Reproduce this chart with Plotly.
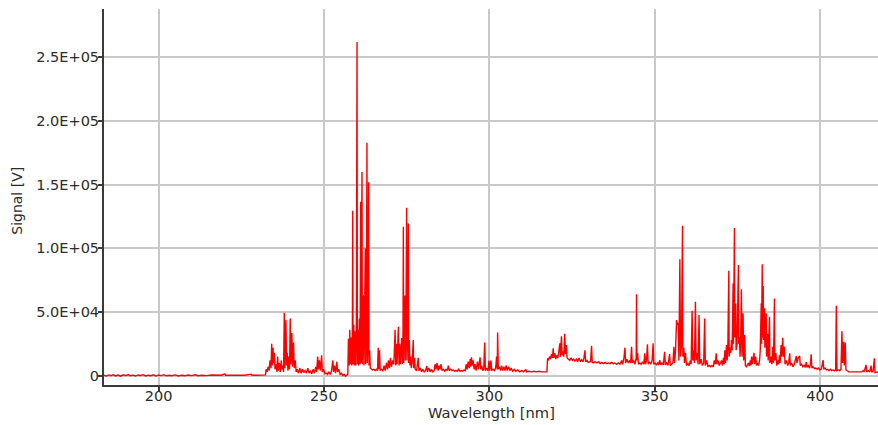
import plotly.graph_objects as go

# Emission spectrum, (wavelength [nm], signal [V]) samples, split by spectral band
band_183_232 = [
    (183.5, 400), (184.2, -300), (185.0, 600), (185.6, 0), (186.3, 800), (187.0, -200),
    (187.8, 500), (188.5, -400), (189.3, 700), (190.0, 100), (190.8, 900), (191.5, -100),
    (192.3, 500), (193.0, -300), (193.8, 600), (194.6, 200), (195.3, 800), (196.1, -200),
    (196.9, 400), (197.6, 0), (198.4, 700), (199.2, -300), (200.0, 500), (200.8, 100),
    (201.6, 800), (202.4, -100), (203.2, 400), (204.0, 0), (205.0, 600), (206.0, -200),
    (207.0, 300), (208.0, 0), (209.0, 500), (210.0, 100), (211.0, 700), (212.0, 0),
    (213.0, 400), (214.5, 100), (216.0, 500), (217.5, 200), (219.0, 400), (220.0, 1500),
    (220.3, 300), (222.0, 400), (224.0, 300), (226.0, 400), (228.0, 1200), (228.3, 400),
    (230.0, 400), (232.0, 500),
]

band_232_257 = [
    (232.3, 600), (232.5, 5e3), (232.8, 3e3), (233.1, 7e3), (233.4, 4e3), (233.7, 12e3),
    (234.0, 6e3), (234.2, 25e3), (234.4, 8e3), (234.6, 22e3), (234.8, 10e3), (235.0, 18e3),
    (235.2, 5e3), (235.5, 9e3), (235.8, 3e3), (236.0, 15e3), (236.2, 4e3), (236.5, 10e3),
    (236.8, 3e3), (237.1, 12e3), (237.3, 5e3), (237.6, 8e3), (237.8, 3e3), (238.0, 49.5e3),
    (238.2, 6e3), (238.5, 43.7e3), (238.7, 8e3), (238.9, 18e3), (239.1, 4e3), (239.4, 15e3),
    (239.6, 5e3), (239.8, 45e3), (240.0, 9e3), (240.3, 33.5e3), (240.5, 7e3), (240.8, 26e3),
    (241.0, 6e3), (241.3, 12e3), (241.6, 3e3), (241.9, 5e3), (242.3, 2e3), (242.7, 6e3),
    (243.1, 2e3), (243.5, 5e3), (243.9, 2.5e3), (244.3, 4e3), (244.7, 2e3), (245.1, 6e3),
    (245.5, 2e3), (245.9, 3.5e3), (246.3, 1.5e3), (246.7, 5e3), (247.1, 2e3), (247.5, 7e3),
    (247.8, 3e3), (248.1, 15e3), (248.3, 5e3), (248.6, 12e3), (248.9, 4e3), (249.3, 16e3),
    (249.5, 3e3), (249.9, 5e3), (250.3, 1.5e3), (250.7, 2e3), (251.1, 1e3), (251.5, 3e3),
    (251.9, 1e3), (252.3, 4e3), (252.7, 12e3), (252.9, 3e3), (253.2, 8e3), (253.5, 2e3),
    (253.9, 11e3), (254.1, 3e3), (254.5, 5e3), (254.9, 1e3), (255.3, 2e3), (255.7, 0),
    (256.1, 1e3), (256.5, -500), (256.9, 500), (257.2, 1e3),
]

band_257_264 = [
    (257.4, 29e3), (257.6, 8e3), (257.8, 36e3), (258.0, 9e3), (258.2, 30e3), (258.4, 8e3),
    (258.6, 38e3), (258.7, 129.5e3), (258.8, 9e3), (259.0, 40e3), (259.2, 8e3), (259.4, 35e3),
    (259.6, 8e3), (259.8, 42e3), (260.0, 262e3), (260.1, 9e3), (260.3, 36e3), (260.5, 8e3),
    (260.7, 45e3), (260.9, 9e3), (261.1, 136.6e3), (261.2, 10e3), (261.5, 160e3), (261.6, 9e3),
    (261.8, 40e3), (262.0, 63e3), (262.1, 8e3), (262.3, 38e3), (262.5, 100e3), (262.6, 9e3),
    (262.8, 35e3), (263.0, 183e3), (263.1, 10e3), (263.3, 30e3), (263.5, 152e3), (263.6, 8e3),
    (263.8, 20e3), (264.0, 6e3),
]

band_264_271 = [
    (264.3, 5e3), (264.7, 4.5e3), (265.1, 5e3), (265.5, 4e3), (265.9, 5e3), (266.2, 4e3),
    (266.4, 22e3), (266.6, 5e3), (266.8, 20e3), (267.0, 4e3), (267.4, 5e3), (267.8, 4e3),
    (268.2, 8e3), (268.5, 4e3), (268.9, 10e3), (269.2, 5e3), (269.5, 12e3), (269.8, 6e3),
    (270.1, 14e3), (270.4, 7e3), (270.8, 12e3), (271.1, 9e3),
]

band_271_278 = [
    (271.3, 20e3), (271.5, 36e3), (271.7, 8e3), (271.9, 25e3), (272.1, 9e3), (272.3, 20e3),
    (272.5, 38.5e3), (272.7, 8e3), (272.9, 25e3), (273.1, 9e3), (273.3, 22e3), (273.5, 29.6e3),
    (273.7, 9e3), (273.9, 35e3), (274.0, 117e3), (274.1, 10e3), (274.3, 50e3), (274.5, 63e3),
    (274.6, 12e3), (274.8, 45e3), (275.0, 132e3), (275.1, 12e3), (275.3, 40e3), (275.5, 119.6e3),
    (275.6, 10e3), (275.8, 28e3), (276.0, 8e3), (276.2, 15e3), (276.4, 6e3), (276.7, 12e3),
    (277.0, 28e3), (277.1, 6e3), (277.4, 14e3), (277.6, 5e3),
]

band_278_317 = [
    (278.0, 4e3), (278.5, 14e3), (278.7, 4e3), (279.1, 6e3), (279.5, 3e3), (279.9, 5e3),
    (280.3, 3e3), (280.7, 4e3), (281.1, 7.6e3), (281.3, 3e3), (281.7, 6e3), (282.1, 3e3),
    (282.5, 5e3), (282.9, 3e3), (283.3, 4e3), (283.6, 9e3), (283.9, 5e3), (284.2, 10e3),
    (284.5, 4e3), (284.8, 8e3), (285.1, 5e3), (285.4, 9e3), (285.7, 4e3), (286.1, 5e3),
    (286.5, 3.5e3), (286.9, 5e3), (287.3, 4e3), (287.6, 8e3), (287.9, 4e3), (288.3, 5e3),
    (288.7, 4e3), (289.1, 4.5e3), (289.5, 3.5e3), (289.9, 4e3), (290.3, 3.5e3), (290.7, 5e3),
    (291.1, 3.5e3), (291.5, 4e3), (291.9, 3.5e3), (292.3, 4.5e3), (292.7, 4e3), (293.0, 9e3),
    (293.3, 5e3), (293.6, 11e3), (293.9, 6e3), (294.2, 13e3), (294.4, 7e3), (294.6, 14.4e3),
    (294.8, 8e3), (295.1, 12e3), (295.4, 5e3), (295.7, 9e3), (296.0, 4e3), (296.4, 11e3),
    (296.7, 5e3), (297.0, 9e3), (297.2, 14.4e3), (297.4, 5e3), (297.7, 8e3), (298.0, 4e3),
    (298.3, 5e3), (298.6, 26e3), (298.8, 4e3), (299.2, 6e3), (299.6, 4e3), (299.9, 11.8e3),
    (300.1, 4e3), (300.5, 12e3), (300.7, 4e3), (301.1, 5e3), (301.5, 4e3), (301.9, 6e3),
    (302.2, 15e3), (302.4, 5e3), (302.5, 34e3), (302.7, 5e3), (303.0, 7e3), (303.4, 4e3),
    (303.7, 8e3), (304.0, 4e3), (304.4, 7e3), (304.7, 4e3), (305.1, 8e3), (305.4, 4e3),
    (305.8, 7e3), (306.2, 4e3), (306.6, 6e3), (307.0, 3.5e3), (307.5, 5e3), (308.0, 3.5e3),
    (308.6, 4.5e3), (309.2, 3e3), (309.8, 4e3), (310.4, 3e3), (311.0, 5e3), (311.3, 3e3),
    (312.0, 3.5e3), (312.8, 3e3), (313.5, 3.5e3), (314.3, 3e3), (315.0, 3.5e3), (315.8, 3e3),
    (316.5, 3e3), (317.0, 3e3),
]

band_317_331 = [
    (317.4, 3e3), (317.6, 13.6e3), (317.9, 12e3), (318.2, 15e3), (318.5, 13e3), (318.8, 17e3),
    (319.1, 14e3), (319.3, 21.5e3), (319.5, 14e3), (319.8, 17.8e3), (320.1, 13e3), (320.4, 16e3),
    (320.7, 14e3), (321.0, 19e3), (321.3, 25.4e3), (321.5, 15e3), (321.8, 31e3), (322.0, 16e3),
    (322.3, 19e3), (322.5, 15e3), (322.8, 33e3), (323.0, 17e3), (323.3, 24e3), (323.5, 14e3),
    (323.9, 13e3), (324.3, 12e3), (324.7, 14e3), (325.1, 12e3), (325.5, 13e3), (325.9, 11.5e3),
    (326.3, 13e3), (326.7, 11e3), (327.1, 14e3), (327.5, 11e3), (327.9, 12.5e3), (328.3, 11e3),
    (328.6, 14e3), (328.9, 20e3), (329.1, 11e3), (329.5, 12e3), (329.9, 10.5e3), (330.3, 11e3),
    (330.6, 11e3), (330.9, 23.5e3), (331.1, 10.5e3),
]

band_331_355 = [
    (331.5, 10e3), (332.0, 11e3), (332.5, 10e3), (333.0, 11e3), (333.5, 9.5e3), (334.0, 10.5e3),
    (334.5, 9.5e3), (335.0, 10.5e3), (335.5, 9.5e3), (336.0, 10e3), (336.5, 9.5e3), (337.0, 10.5e3),
    (337.5, 9.5e3), (338.0, 10e3), (338.5, 9e3), (339.0, 10e3), (339.5, 9e3), (340.0, 12e3),
    (340.3, 9e3), (340.7, 14e3), (341.0, 22e3), (341.2, 10e3), (341.6, 13e3), (342.0, 10e3),
    (342.4, 12e3), (342.7, 10e3), (343.0, 22.8e3), (343.2, 10e3), (343.6, 12e3), (344.0, 9e3),
    (344.4, 14e3), (344.5, 64e3), (344.6, 12e3), (344.8, 18e3), (345.1, 9e3), (345.5, 10e3),
    (345.9, 9e3), (346.3, 11e3), (346.7, 9e3), (347.0, 17.6e3), (347.2, 9e3), (347.5, 12e3),
    (347.8, 24.6e3), (348.0, 9e3), (348.4, 11e3), (348.8, 9e3), (349.2, 12e3), (349.5, 25.4e3),
    (349.7, 9e3), (350.1, 10e3), (350.5, 8.5e3), (350.9, 10e3), (351.2, 8.5e3), (351.5, 12.3e3),
    (351.8, 8.5e3), (352.2, 10e3), (352.6, 8.5e3), (353.0, 18.8e3), (353.2, 8.5e3), (353.6, 10e3),
    (354.0, 8e3), (354.5, 17e3), (354.7, 8e3), (355.1, 9e3),
]

band_355_378 = [
    (355.5, 10e3), (355.8, 22.8e3), (356.0, 10e3), (356.3, 20e3), (356.6, 43.7e3), (356.8, 40e3),
    (357.1, 41.6e3), (357.3, 12e3), (357.6, 91.4e3), (357.8, 15e3), (358.1, 25e3), (358.4, 117.8e3),
    (358.5, 15e3), (358.8, 22e3), (359.0, 10e3), (359.3, 18e3), (359.6, 8e3), (360.0, 9.7e3),
    (360.4, 8e3), (360.8, 12e3), (361.0, 9e3), (361.3, 51e3), (361.5, 12e3), (361.8, 20e3),
    (362.0, 10e3), (362.3, 58e3), (362.5, 12e3), (362.8, 18e3), (363.1, 9e3), (363.4, 47.7e3),
    (363.6, 9e3), (364.0, 13e3), (364.4, 8e3), (364.8, 10e3), (365.1, 45e3), (365.3, 8e3),
    (365.7, 12e3), (366.1, 7e3), (366.5, 8e3), (366.9, 7e3), (367.3, 8e3), (367.7, 7e3),
    (368.0, 12e3), (368.3, 9e3), (368.6, 17.6e3), (368.8, 9e3), (369.1, 12e3), (369.5, 8e3),
    (369.9, 10e3), (370.2, 12e3), (370.5, 8e3), (370.8, 14e3), (371.0, 9e3), (371.2, 20e3),
    (371.4, 10e3), (371.7, 24e3), (371.9, 12e3), (372.1, 22e3), (372.4, 82.4e3), (372.5, 15e3),
    (372.8, 22e3), (373.0, 18e3), (373.2, 28e3), (373.4, 20e3), (373.7, 72.5e3), (373.8, 25e3),
    (374.1, 116e3), (374.2, 30e3), (374.5, 56.8e3), (374.6, 20e3), (374.9, 25e3), (375.3, 87e3),
    (375.4, 25e3), (375.6, 30.6e3), (375.8, 15e3), (376.0, 30e3), (376.2, 67.8e3), (376.4, 15e3),
    (376.7, 49e3), (376.9, 12e3), (377.2, 32e3), (377.4, 8e3), (377.7, 7e3),
]

band_378_395 = [
    (378.0, 8.5e3), (378.3, 10e3), (378.6, 7.5e3), (378.9, 12e3), (379.1, 8e3), (379.3, 15e3),
    (379.5, 9e3), (379.8, 14e3), (380.0, 18e3), (380.2, 9e3), (380.5, 15e3), (380.8, 8e3),
    (381.1, 10e3), (381.4, 8e3), (381.7, 12e3), (381.9, 20e3), (382.1, 35e3), (382.2, 56.8e3),
    (382.3, 25e3), (382.5, 87.6e3), (382.6, 30e3), (382.8, 70.4e3), (382.9, 28e3), (383.2, 53e3),
    (383.3, 22e3), (383.7, 49e3), (383.8, 15e3), (384.1, 33e3), (384.3, 12e3), (384.7, 46.3e3),
    (384.8, 10e3), (385.1, 15e3), (385.4, 9e3), (385.7, 22.8e3), (385.9, 10e3), (386.2, 60.7e3),
    (386.3, 12e3), (386.6, 18e3), (386.9, 8e3), (387.2, 12e3), (387.5, 9e3), (387.7, 16e3),
    (387.9, 10e3), (388.2, 24e3), (388.4, 15e3), (388.7, 29.8e3), (388.9, 15e3), (389.2, 22.8e3),
    (389.4, 9e3), (389.8, 12e3), (390.2, 8e3), (390.5, 10e3), (390.8, 17.6e3), (391.0, 8e3),
    (391.4, 10e3), (391.8, 7e3), (392.2, 9e3), (392.5, 12e3), (392.8, 15.5e3), (393.0, 10e3),
    (393.4, 14e3), (393.8, 15.5e3), (394.0, 8e3), (394.4, 9e3), (394.8, 7e3),
]

band_395_418 = [
    (395.2, 8e3), (395.5, 6.5e3), (395.8, 10.7e3), (396.0, 6.5e3), (396.4, 8e3), (396.8, 6e3),
    (397.1, 10e3), (397.3, 16.8e3), (397.5, 6e3), (397.9, 7e3), (398.3, 5.5e3), (398.7, 6e3),
    (399.1, 5e3), (399.5, 6e3), (399.9, 4.5e3), (400.3, 5e3), (400.6, 8e3), (400.9, 12.3e3),
    (401.1, 5e3), (401.5, 6e3), (401.9, 4.5e3), (402.3, 5e3), (402.7, 4e3), (403.1, 5e3),
    (403.5, 4e3), (403.9, 4.5e3), (404.3, 4e3), (404.7, 4.5e3), (404.9, 55e3), (405.1, 4e3),
    (405.5, 4.5e3), (405.9, 4e3), (406.3, 5e3), (406.6, 35e3), (406.8, 10e3), (407.1, 26.7e3),
    (407.3, 8e3), (407.6, 26e3), (407.8, 4.5e3), (408.2, 3.5e3), (408.7, 3e3), (409.3, 3e3),
    (410.0, 3e3), (410.7, 3e3), (411.3, 3e3), (412.0, 3e3), (412.6, 3e3), (413.0, 4e3),
    (413.3, 3e3), (413.9, 8.4e3), (414.1, 3e3), (414.6, 4e3), (415.0, 3e3), (415.4, 8e3),
    (415.6, 3e3), (416.0, 3e3), (416.4, 13.6e3), (416.6, 2.5e3), (417.0, 3e3), (417.5, 3e3),
]

bands = [band_183_232, band_232_257, band_257_264, band_264_271, band_271_278,
         band_278_317, band_317_331, band_331_355, band_355_378, band_378_395, band_395_418]

# Axis ticks
x_ticks = [200, 250, 300, 350, 400]
y_ticks = [0, 5e4, 1e5, 1.5e5, 2e5, 2.5e5]
y_tick_labels = ["0", "5.0E+04", "1.0E+05", "1.5E+05", "2.0E+05", "2.5E+05"]

wavelength = [p[0] for b in bands for p in b]
signal = [p[1] for b in bands for p in b]

AXIS_COLOR = "#3a3a3a"
GRID_COLOR = "#c8c8c8"
TEXT_COLOR = "#2b2b2b"
TICK_FONT = dict(family="DejaVu Sans, Verdana, sans-serif", size=14.5, color=TEXT_COLOR)
TITLE_FONT = dict(family="DejaVu Sans, Verdana, sans-serif", size=14, color=TEXT_COLOR)

fig = go.Figure()
fig.add_trace(go.Scatter(
    x=wavelength, y=signal, mode="lines",
    line=dict(color="#ff0000", width=1.4),
    showlegend=False, hoverinfo="skip",
))

x_range = [183.5, 417.5]
y_range = [-7300, 288000]

fig.update_layout(
    width=878, height=425,
    margin=dict(l=104, r=0, t=9, b=40),
    paper_bgcolor="white", plot_bgcolor="white",
    font=TICK_FONT,
    xaxis=dict(
        range=x_range, tickvals=x_ticks, ticktext=[str(v) for v in x_ticks],
        showgrid=True, gridcolor=GRID_COLOR, gridwidth=1.5,
        showline=True, linecolor=AXIS_COLOR, linewidth=2, mirror=False,
        ticks="outside", ticklen=5, tickcolor=AXIS_COLOR, tickwidth=1.5,
        ticklabelstandoff=-8,
        zeroline=False, automargin=False, tickfont=TICK_FONT,
    ),
    yaxis=dict(
        range=y_range, tickvals=y_ticks, ticktext=y_tick_labels,
        showgrid=True, gridcolor=GRID_COLOR, gridwidth=1.5,
        showline=True, linecolor=AXIS_COLOR, linewidth=2, mirror=False,
        ticks="outside", ticklen=4, tickcolor=AXIS_COLOR, tickwidth=1.5,
        ticklabelstandoff=-4,
        zeroline=False, automargin=False, tickfont=TICK_FONT,
    ),
    xaxis2=dict(
        overlaying="x", side="top", matches="x", range=x_range,
        tickvals=x_ticks, showticklabels=False, showgrid=False, zeroline=False,
        ticks="inside", ticklen=5, tickcolor=AXIS_COLOR, tickwidth=1.5,
        showline=True, linecolor=AXIS_COLOR, linewidth=1.2, automargin=False,
    ),
    yaxis2=dict(
        overlaying="y", side="right", matches="y", range=y_range,
        tickvals=y_ticks, showticklabels=False, showgrid=False, zeroline=False,
        ticks="inside", ticklen=4, tickcolor=AXIS_COLOR, tickwidth=1.5,
        showline=False, automargin=False,
    ),
    annotations=[
        dict(text="Wavelength [nm]", xref="paper", yref="paper", x=0.5, y=0,
             yshift=-27, yanchor="middle", xanchor="center", showarrow=False,
             font=dict(TITLE_FONT, size=14.7)),
        dict(text="Signal [V]", xref="paper", yref="paper", x=0, y=0.49,
             xshift=-87, xanchor="center", yanchor="middle", textangle=-90,
             showarrow=False, font=TITLE_FONT),
    ],
)

fig.write_html("out.html")
